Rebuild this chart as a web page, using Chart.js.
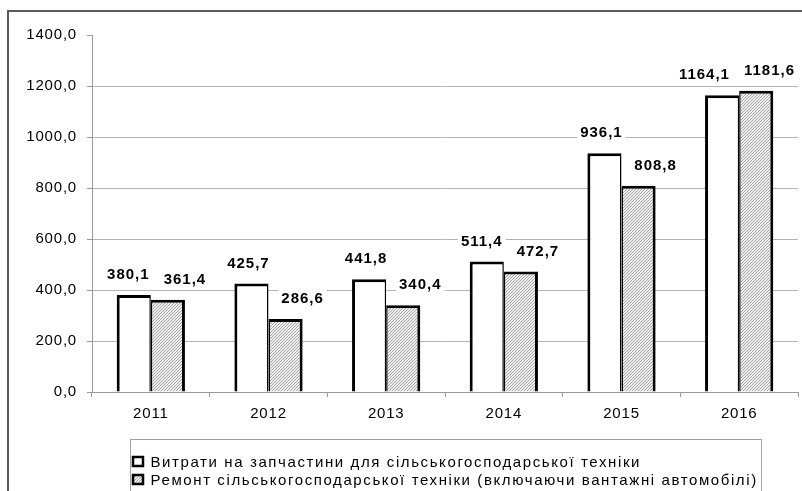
<!DOCTYPE html>
<html>
<head>
<meta charset="utf-8">
<script src="https://cdn.jsdelivr.net/npm/chart.js@4.4.1/dist/chart.umd.min.js"></script>
<style>
	html, body { margin: 0; padding: 0; background: #fff; }
	canvas { display: block; }
</style>
</head>
<body>
<canvas id="costs-chart" width="802" height="491"></canvas>
<script>
const years = ['2011', '2012', '2013', '2014', '2015', '2016'];
const partsCosts = [380.1, 425.7, 441.8, 511.4, 936.1, 1164.1];
const repairCosts = [361.4, 286.6, 340.4, 472.7, 808.8, 1181.6];
const seriesNames = [
	'Витрати на запчастини для сільськогосподарської техніки',
	'Ремонт сільськогосподарської техніки (включаючи вантажні автомобілі)'
];
const yMin = 0;
const yMax = 1400;
const yStep = 200;

document.addEventListener('DOMContentLoaded', function () {
	const canvas = document.getElementById('costs-chart');
	const fontFamily = '"Liberation Sans", Arial, sans-serif';
	const spacing = '0.8px';

	function fmt(v) {
		return Number(v).toFixed(1).replace('.', ',');
	}

	function makeHatch() {
		const c = document.createElement('canvas');
		c.width = 3;
		c.height = 3;
		const g = c.getContext('2d');
		g.fillStyle = '#eeeeee';
		g.fillRect(0, 0, 3, 3);
		g.strokeStyle = '#a6a6a6';
		g.lineWidth = 1;
		g.beginPath();
		g.moveTo(0, 3); g.lineTo(3, 0);
		g.moveTo(-1, 1); g.lineTo(1, -1);
		g.moveTo(2, 4); g.lineTo(4, 2);
		g.stroke();
		return g.createPattern(c, 'repeat');
	}

	const hatch = makeHatch();
	const fills = ['#ffffff', hatch];

	// frame + letter spacing (the source picture is a bit stretched)
	const framePlugin = {
		id: 'framePlugin',
		beforeLayout(chart) {
			chart.ctx.letterSpacing = spacing;
		},
		beforeDraw(chart) {
			const ctx = chart.ctx;
			ctx.letterSpacing = spacing;
			ctx.save();
			ctx.fillStyle = '#fff';
			ctx.fillRect(0, 0, chart.width, chart.height);
			ctx.strokeStyle = '#5a5a5a';
			ctx.lineWidth = 2;
			ctx.beginPath();
			ctx.moveTo(8, chart.height);
			ctx.lineTo(8, 11);
			ctx.lineTo(chart.width, 11);
			ctx.stroke();
			ctx.restore();
		}
	};

	// value labels above bars, white backing hides the grid lines
	const labelShift = [-3, 17];
	const valueLabels = {
		id: 'valueLabels',
		afterDatasetsDraw(chart) {
			const ctx = chart.ctx;
			const area = chart.chartArea;
			ctx.save();
			ctx.letterSpacing = '1px';
			ctx.font = 'bold 15px ' + fontFamily;
			ctx.textAlign = 'center';
			ctx.textBaseline = 'middle';

			const metas = chart.data.datasets.map((d, di) => chart.getDatasetMeta(di));
			chart.data.labels.forEach((lbl, i) => {
				const items = chart.data.datasets.map((dataset, di) => {
					const bar = metas[di].data[i];
					const text = fmt(dataset.data[i]);
					const w = ctx.measureText(text).width + 6;
					let x = bar.x + labelShift[di];
					x = Math.min(x, area.right - w / 2);
					return { text, x, y: bar.y - 21, w };
				});
				// push the first label left if the two collide
				const a = items[0], b = items[1];
				if (Math.abs(a.y - b.y) < 16) {
					const overlap = (a.x + a.w / 2) - (b.x - b.w / 2) + 8;
					if (overlap > 0) a.x -= overlap;
				}
				items.forEach(it => {
					ctx.fillStyle = '#fff';
					ctx.fillRect(it.x - it.w / 2, it.y - 8, it.w, 16);
					ctx.fillStyle = '#000';
					ctx.fillText(it.text, it.x, it.y + 1);
				});
			});
			ctx.restore();
		}
	};

	// boxed legend under the axis, items stacked and left aligned
	const boxLegend = {
		id: 'boxLegend',
		afterDraw(chart) {
			const ctx = chart.ctx;
			const area = chart.chartArea;
			ctx.save();
			ctx.letterSpacing = '1.6px';
			ctx.font = '15px ' + fontFamily;
			const names = chart.data.datasets.map(d => d.label);
			const textW = Math.max(...names.map(n => ctx.measureText(n).width));
			const boxW = Math.round(textW + 24);
			const left = Math.round((area.left + area.right) / 2 - boxW / 2) + 0.5;
			const top = Math.round(area.bottom + 47) + 0.5;

			ctx.strokeStyle = '#a0a0a0';
			ctx.lineWidth = 1;
			ctx.strokeRect(left, top, boxW, 70);

			names.forEach((name, i) => {
				const cy = top + 22 + i * 18;
				ctx.fillStyle = fills[i];
				ctx.fillRect(left + 2, cy - 5, 11, 10);
				ctx.strokeStyle = '#000';
				ctx.lineWidth = 2.5;
				ctx.strokeRect(left + 2.5, cy - 4.5, 10, 9);
				ctx.fillStyle = '#000';
				ctx.textAlign = 'left';
				ctx.textBaseline = 'middle';
				ctx.fillText(name, left + 20, cy + 1);
			});
			ctx.restore();
		}
	};

	new Chart(canvas, {
		type: 'bar',
		data: {
			labels: years,
			datasets: [
				{
					label: seriesNames[0],
					data: partsCosts,
					backgroundColor: fills[0],
					borderColor: '#000',
					borderWidth: { top: 3, left: 3, right: 1.5, bottom: 0 },
					borderSkipped: false,
					categoryPercentage: 0.58,
					barPercentage: 1.0
				},
				{
					label: seriesNames[1],
					data: repairCosts,
					backgroundColor: fills[1],
					borderColor: '#000',
					borderWidth: { top: 3, left: 1.5, right: 3, bottom: 0 },
					borderSkipped: false,
					categoryPercentage: 0.58,
					barPercentage: 1.0
				}
			]
		},
		options: {
			responsive: false,
			animation: false,
			layout: {
				padding: { left: 0, top: 35, right: 4, bottom: 59 }
			},
			scales: {
				x: {
					grid: {
						display: true,
						drawOnChartArea: false,
						offset: true,
						color: '#9a9a9a',
						tickLength: 5
					},
					border: { color: '#9a9a9a' },
					ticks: {
						color: '#000',
						padding: 8,
						maxRotation: 0,
						font: { family: fontFamily, size: 15 }
					},
					afterFit(scale) {
						scale.height = 40;
					}
				},
				y: {
					min: yMin,
					max: yMax,
					grid: {
						color: ctx => ctx.tick && ctx.tick.value === yMax ? 'rgba(0,0,0,0)' : '#b4b4b4',
						tickColor: '#9a9a9a',
						tickLength: 5
					},
					border: { color: '#9a9a9a' },
					ticks: {
						stepSize: yStep,
						color: '#000',
						padding: 10,
						font: { family: fontFamily, size: 15 },
						callback: v => fmt(v)
					},
					afterFit(scale) {
						scale.width = 92;
					}
				}
			},
			plugins: {
				legend: { display: false },
				tooltip: { enabled: false }
			}
		},
		plugins: [framePlugin, valueLabels, boxLegend]
	});
});
</script>
</body>
</html>
